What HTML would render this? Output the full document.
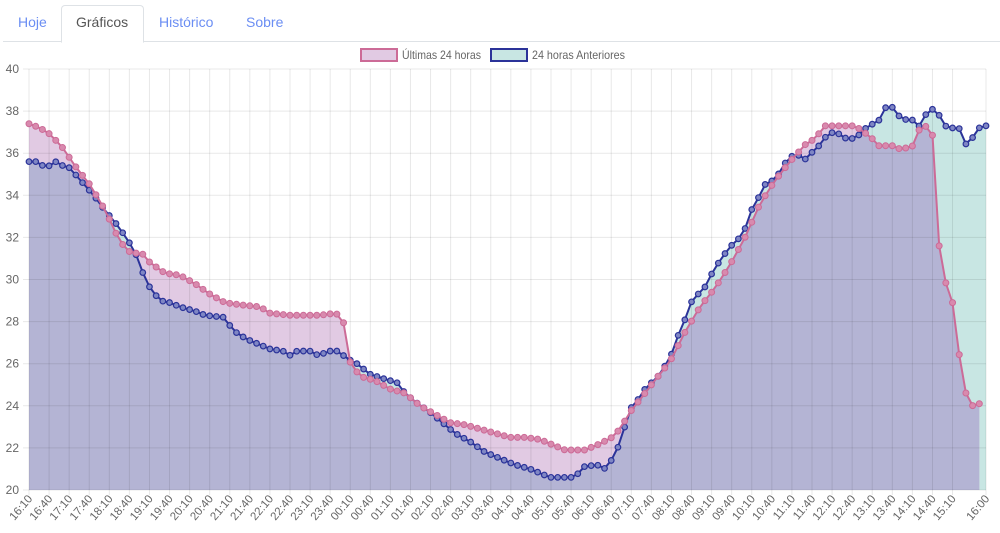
<!DOCTYPE html>
<html><head><meta charset="utf-8"><style>
body{margin:0;background:#fff;font-family:"Liberation Sans",sans-serif;}
.tabs{position:absolute;left:0;top:0;width:1000px;height:42px;}
.tabs .line{position:absolute;left:3px;right:0;top:41px;height:1px;background:#dee2e6;}
.tab{position:absolute;top:14px;font-size:14px;color:#6b8ef3;}
.act{position:absolute;left:61px;top:5px;width:81px;height:36px;border:1px solid #dee2e6;border-bottom:1px solid #fff;border-radius:4px 4px 0 0;background:#fff;}
</style></head><body>
<div class="tabs"><div class="line"></div><div class="act"></div>
<span class="tab" style="left:18px">Hoje</span>
<span class="tab" style="left:76px;color:#555">Gráficos</span>
<span class="tab" style="left:159px">Histórico</span>
<span class="tab" style="left:246px">Sobre</span></div>
<svg id="s" width="1000" height="533" style="position:absolute;left:0;top:0" xmlns="http://www.w3.org/2000/svg"></svg>
<script>
const P=[[29,37.4],[40,37.2],[50,36.9],[62,36.3],[75,35.4],[90,34.5],[105,33.3],[120,31.8],[130,31.3],[143,31.2],[150,30.8],[165,30.3],[180,30.2],[195,29.8],[210,29.3],[225,28.9],[240,28.8],[260,28.7],[270,28.4],[290,28.3],[320,28.3],[335,28.4],[343,28.2],[347,26.3],[360,25.4],[375,25.2],[390,24.8],[405,24.6],[420,24.0],[435,23.6],[450,23.2],[465,23.1],[480,22.9],[495,22.7],[510,22.5],[525,22.5],[540,22.4],[555,22.1],[565,21.9],[585,21.9],[600,22.2],[612,22.5],[620,22.9],[630,23.7],[645,24.6],[658,25.4],[670,26.1],[685,27.5],[700,28.7],[715,29.6],[730,30.7],[745,32.0],[760,33.6],[775,34.7],[790,35.6],[805,36.4],[815,36.7],[825,37.3],[855,37.3],[870,36.8],[880,36.3],[890,36.4],[900,36.2],[912,36.3],[920,37.2],[928,37.3],[933,36.8],[938,31.9],[946,29.8],[952,29.1],[959,26.5],[965,24.7],[972,24.0],[979,24.1]];
const B=[[29,35.6],[37,35.6],[43,35.4],[50,35.4],[56,35.6],[63,35.4],[70,35.3],[77,34.9],[90,34.2],[97,33.8],[103,33.4],[110,33.0],[117,32.6],[123,32.2],[130,31.7],[137,31.1],[143,30.3],[150,29.6],[160,29.0],[170,28.9],[180,28.7],[195,28.5],[205,28.3],[225,28.2],[230,27.8],[238,27.4],[250,27.1],[260,26.9],[270,26.7],[283,26.6],[290,26.4],[297,26.6],[310,26.6],[318,26.4],[330,26.6],[340,26.6],[345,26.3],[357,26.0],[370,25.5],[383,25.3],[397,25.1],[405,24.6],[415,24.2],[430,23.7],[440,23.3],[455,22.7],[470,22.3],[485,21.8],[500,21.5],[515,21.2],[530,21.0],[540,20.8],[550,20.6],[575,20.6],[583,21.1],[597,21.2],[604,21.0],[610,21.3],[617,21.9],[624,22.9],[631,23.9],[638,24.3],[645,24.8],[658,25.4],[665,25.9],[672,26.5],[680,27.6],[686,28.2],[692,29.0],[700,29.4],[706,29.7],[713,30.4],[720,30.9],[726,31.3],[733,31.7],[740,32.0],[746,32.5],[753,33.5],[760,34.0],[766,34.6],[773,34.7],[780,35.1],[786,35.6],[793,35.9],[800,35.9],[806,35.7],[813,36.1],[820,36.4],[826,36.8],[833,37.0],[840,36.9],[846,36.7],[853,36.7],[860,36.9],[866,37.2],[873,37.4],[880,37.6],[886,38.2],[892,38.2],[898,37.8],[905,37.6],[912,37.6],[918,37.2],[925,37.8],[932,38.1],[938,37.9],[945,37.3],[952,37.2],[959,37.2],[965,36.4],[972,36.7],[979,37.2],[986,37.3]];
const X0=29,X1=986,Y0=490,N=144,dx=(X1-X0)/143,ys=(Y0-69)/20;
function interp(A,x){for(let i=0;i<A.length-1;i++){if(x<=A[i+1][0]+0.01){let t=(x-A[i][0])/(A[i+1][0]-A[i][0]);return A[i][1]+t*(A[i+1][1]-A[i][1]);}}return A[A.length-1][1];}
const y=v=>Y0-(v-20)*ys;
let px=[],py=[],bx=[],by=[];
for(let i=0;i<N;i++){let x=X0+i*dx;bx.push(x);by.push(y(interp(B,x)));if(i<143){px.push(x);py.push(y(interp(P,x)));}}
let h='';
const poly=(xs,ys2)=>xs.map((x,i)=>x.toFixed(1)+','+ys2[i].toFixed(1)).join(' ');
h+=`<polygon points="${X0},${Y0} ${poly(bx,by)} ${X1},${Y0}" fill="#c8e6e3"/>`;
h+=`<polygon points="${X0},${Y0} ${poly(px,py)} ${px[142]},${Y0}" fill="#e1cae3"/>`;
let my=py.map((v,i)=>Math.max(v,by[i]));
h+=`<polygon points="${X0},${Y0} ${poly(px,my)} ${px[142]},${Y0}" fill="#b4b4d4"/>`;
for(let v=20;v<=40;v+=2){let yy=y(v);h+=`<line x1="${X0-6}" x2="${X1}" y1="${yy}" y2="${yy}" stroke="rgba(0,0,0,0.09)"/>`;h+=`<text x="19" y="${yy+4}" font-size="12" fill="#666" text-anchor="end">${v}</text>`;}
let labs=[];
for(let i=0;i<=138;i+=3)labs.push(i);labs.push(143);
for(const i of labs){let x=X0+i*dx;h+=`<line x1="${x}" x2="${x}" y1="69" y2="${Y0+5}" stroke="rgba(0,0,0,0.09)"/>`;
let m=(16*60+10+i*10)%1440;let s=String(Math.floor(m/60)).padStart(2,'0')+':'+String(m%60).padStart(2,'0');
h+=`<text transform="translate(${x+4},${Y0+9}) rotate(-50)" font-size="11.5" fill="#666" text-anchor="end">${s}</text>`;}
h+=`<polyline points="${poly(bx,by)}" fill="none" stroke="#2b3399" stroke-width="2"/>`;
for(let i=0;i<N;i++)h+=`<circle cx="${bx[i]}" cy="${by[i]}" r="2.8" fill="#7f86c4" stroke="#2b3399" stroke-width="1.2"/>`;
h+=`<polyline points="${poly(px,py)}" fill="none" stroke="#cc6b97" stroke-width="2"/>`;
for(let i=0;i<143;i++)h+=`<circle cx="${px[i]}" cy="${py[i]}" r="3" fill="#d88aae" stroke="#cc6b97" stroke-width="1"/>`;
h+=`<rect x="361" y="49" width="36" height="12" fill="#e1cae3" stroke="#cc6b97" stroke-width="2"/><text x="402" y="59" font-size="12" fill="#666" textLength="79" lengthAdjust="spacingAndGlyphs">Últimas 24 horas</text>`;
h+=`<rect x="491" y="49" width="36" height="12" fill="#c8e6e3" stroke="#2b3399" stroke-width="2"/><text x="532" y="59" font-size="12" fill="#666" textLength="93" lengthAdjust="spacingAndGlyphs">24 horas Anteriores</text>`;
document.getElementById('s').innerHTML=h;
</script>
</body></html>
